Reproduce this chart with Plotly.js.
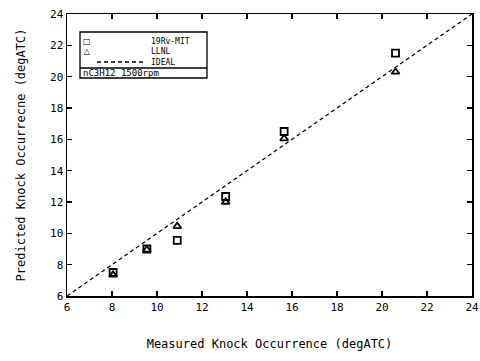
<!DOCTYPE html>
<html><head><meta charset="utf-8">
<script src="https://cdn.plot.ly/plotly-3.0.1.min.js"></script>
<style>body{margin:0;background:#fff}#c{width:480px;height:361px}</style>
</head><body><div id="c"></div>
<script>
const mitX = [8.05, 9.55, 10.9, 13.05, 15.65, 20.6];
const mitY = [7.5, 9.0, 9.55, 12.35, 16.5, 21.5];
const llnlX = [8.05, 9.55, 10.9, 13.05, 15.65, 20.6];
const llnlY = [7.35, 8.95, 10.45, 12.0, 16.05, 20.3];
const idealX = [6, 24];
const idealY = [6, 24];
const tickVals = [6, 8, 10, 12, 14, 16, 18, 20, 22, 24];
const tickText = ['6', '8', '10', '12', '14', '16', '18', '20', '22', '24'];
const legendNames = ['19Rv-MIT', 'LLNL', 'IDEAL'];
const legendSymbols = ['□', '△'];
const caseLabel = 'nC3H12 1500rpm';

const F = 'DejaVu Sans Mono, monospace';
const traces = [
  {x: idealX, y: idealY, mode: 'lines', line: {color: '#000', width: 1.3, dash: '4px,3px'}, name: legendNames[2], showlegend: false},
  {x: mitX, y: mitY, mode: 'markers', marker: {symbol: 'square-open', size: 7, color: '#000', line: {width: 1.8}}, name: legendNames[0], showlegend: false},
  {x: llnlX, y: llnlY, mode: 'markers', marker: {symbol: 'triangle-up-open', size: 7, color: '#000', line: {width: 1.8}}, name: legendNames[1], showlegend: false}
];
const px = v => (v - 67) / 405;
const py = v => (296 - v) / 282;
const axisCommon = {
  range: [6, 24], tickvals: tickVals, ticktext: tickText, showgrid: false, zeroline: false,
  showline: true, linecolor: '#000', linewidth: 1.5, mirror: 'ticks', ticks: 'inside', ticklen: 5,
  tickcolor: '#000', tickwidth: 1.3, tickfont: {family: F, size: 11, color: '#000'}
};
const ann = (x, y, text, opts) => Object.assign({xref: 'paper', yref: 'paper', x: px(x), y: py(y), text: text,
  showarrow: false, xanchor: 'left', yanchor: 'middle', align: 'left', borderpad: 0, font: {family: F, size: 8, color: '#000'}}, opts || {});
const layout = {
  width: 480, height: 361, margin: {l: 67, r: 8, t: 14, b: 65},
  paper_bgcolor: '#fff', plot_bgcolor: '#fff', showlegend: false,
  xaxis: Object.assign({}, axisCommon, {title: {text: 'Measured Knock Occurrence (degATC)', font: {family: F, size: 12, color: '#000'}, standoff: 27}}),
  yaxis: Object.assign({}, axisCommon, {title: {text: 'Predicted Knock Occurrecne (degATC)', font: {family: F, size: 12, color: '#000'}, standoff: 22}}),
  shapes: [
    {type: 'rect', xref: 'paper', yref: 'paper', x0: px(80), x1: px(207), y0: py(78), y1: py(32), line: {color: '#000', width: 1.3}},
    {type: 'line', xref: 'paper', yref: 'paper', x0: px(80), x1: px(207), y0: py(68), y1: py(68), line: {color: '#000', width: 1.3}},
    {type: 'line', xref: 'paper', yref: 'paper', x0: px(97), x1: px(146), y0: py(62), y1: py(62), line: {color: '#000', width: 1.3, dash: '4px,3px'}}
  ],
  annotations: [
    ann(87, 46.3, legendSymbols.join('<br>'), {xanchor: 'center', align: 'center', font: {family: 'DejaVu Sans', size: 8, color: '#000'}}),
    ann(150, 51.5, legendNames.join('<br>')),
    ann(82, 73, caseLabel, {font: {family: F, size: 9, color: '#000'}})
  ]
};
Plotly.newPlot('c', traces, layout, {staticPlot: true});
</script></body></html>
